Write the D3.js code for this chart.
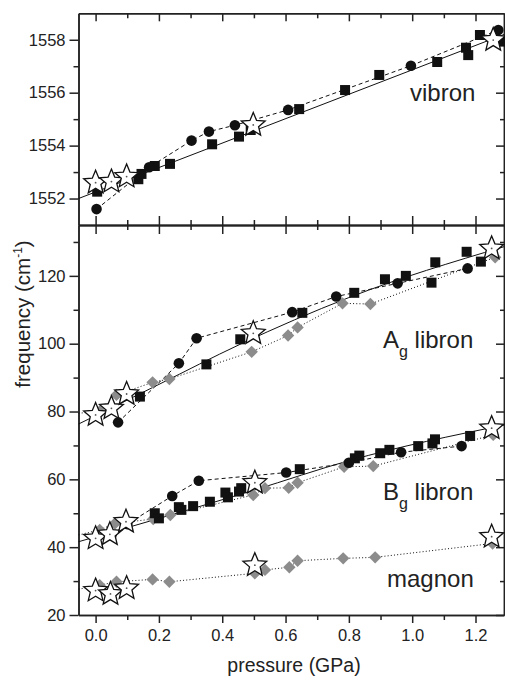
<!DOCTYPE html>
<html lang="en">
<head>
<meta charset="UTF-8">
<title>Raman modes vs pressure</title>
<script src="https://d3js.org/d3.v7.min.js"></script>
<style>
    body { margin: 0; background: #fff; }
    svg text { font-family: "Liberation Sans", Arial, sans-serif; fill: #222; }
    .axis path, .axis line { stroke: #222; stroke-width: 1.5; }
    .axis text { font-size: 16.5px; fill: #222; }
    .fit { fill: none; stroke: #111; stroke-width: 1; }
</style>
</head>
<body>
<script>
    // ---- data: [pressure (GPa), frequency (cm-1)] ----
    var vibronSquares = [[0.005,1552.26],[0.135,1552.73],[0.145,1552.93],[0.187,1553.23],[0.235,1553.31],[0.368,1554.05],[0.453,1554.34],[0.49,1554.59],[0.643,1555.38],[0.788,1556.1],[0.896,1556.67],[1.079,1557.16],[1.17,1557.7],[1.177,1557.42],[1.214,1558.18],[1.283,1557.93]];
    var vibronCircles = [[0.003,1551.6],[0.169,1553.18],[0.303,1554.19],[0.358,1554.53],[0.44,1554.77],[0.608,1555.35],[0.996,1557.02],[1.272,1558.37]];
    var vibronStars = [[0,1552.6],[0.05,1552.64],[0.098,1552.83],[0.498,1554.78],[1.256,1557.99]];
    var vibronFit = [[-0.054,1552.0],[1.29,1558.2]];

    var agSquares = [[0.14,84.4],[0.35,93.9],[0.457,101.3],[0.653,109.1],[0.817,115.0],[0.914,119.0],[0.98,120.0],[1.061,118.0],[1.073,124.0],[1.172,127.1],[1.217,124.2]];
    var agCircles = [[0.071,76.8],[0.263,94.2],[0.319,101.6],[0.621,109.3],[0.76,113.9],[0.954,117.8],[1.175,122.2]];
    var agDiamonds = [[0.013,80.0],[0.066,84.9],[0.18,88.6],[0.233,89.6],[0.493,97.6],[0.608,102.4],[0.638,104.8],[0.78,111.9],[0.868,111.7],[1.262,125.5]];
    var agStars = [[0,79.0],[0.05,80.95],[0.098,85.17],[0.498,103.07],[1.251,128.1]];
    var agFit = [[-0.054,76.3],[0.2,88.0],[0.456,99.8],[0.8,113.6],[1.29,128.6]];
    var agDotStart = [-0.054,79.5];

    var bgSquares = [[0.187,50.0],[0.2,48.5],[0.263,51.8],[0.271,51.0],[0.308,52.1],[0.361,53.4],[0.41,56.1],[0.418,54.7],[0.453,56.4],[0.46,57.4],[0.645,63.0],[0.819,66.2],[0.833,67.0],[0.899,67.7],[0.928,68.7],[1.019,69.8],[1.064,70.6],[1.072,71.8],[1.183,72.8]];
    var bgCircles = [[0.05,43.5],[0.1,46.8],[0.242,55.1],[0.326,59.6],[0.602,62.0],[0.80,64.9],[0.965,68.0],[1.156,69.8]];
    var bgDiamonds = [[0.013,45.1],[0.061,47.0],[0.182,48.3],[0.236,49.5],[0.498,55.4],[0.535,57.4],[0.61,57.5],[0.638,59.0],[0.785,63.7],[0.877,63.9],[1.256,73.1]];
    var bgStars = [[0,42.6],[0.045,43.8],[0.096,47.5],[0.503,59.0],[1.251,75.1]];
    var bgFit = [[-0.054,41.6],[0.5,56.8],[0.8,65.5],[1.29,76.0]];
    var bgDotStart = [-0.054,43.6];

    var magDiamonds = [[0.013,28.8],[0.066,29.8],[0.18,30.5],[0.233,29.8],[0.503,32.3],[0.535,33.3],[0.612,34.1],[0.638,36.0],[0.782,36.7],[0.883,37.0],[1.254,41.1]];
    var magStars = [[0,27.2],[0.047,26.2],[0.098,27.9],[0.503,34.7],[1.251,43.1]];
    var magDotStart = [-0.054,27.6];

    var xMajor = [0, 0.2, 0.4, 0.6, 0.8, 1.0, 1.2];
    var xMinor = [0.1, 0.3, 0.5, 0.7, 0.9, 1.1];
    var topMajor = [1552, 1554, 1556, 1558];
    var topMinor = [1553, 1555, 1557];
    var botMajor = [20, 40, 60, 80, 100, 120];
    var botMinor = [30, 50, 70, 90, 110, 130];

    var width = 505, height = 680;
    var pLeft = 78.5, pRight = 504, pTop = 13.3, pMid = 225, pBottom = 615;

    var svg = d3.select("body").append("svg")
        .attr("width", width)
        .attr("height", height);

    var x = d3.scaleLinear().domain([-0.054, 1.29]).range([pLeft, pRight]);
    var yTop = d3.scaleLinear().domain([1551, 1559]).range([pMid, pTop]);
    var yBot = d3.scaleLinear().domain([20, 135]).range([pBottom, pMid]);

    // ---- axes ----
    function addAxis(axis, tx, ty) {
        svg.append("g").attr("class", "axis")
            .attr("transform", "translate(" + tx + "," + ty + ")")
            .call(axis);
    }
    var noLab = function() { return ""; };
    var intLab = d3.format("d");

    // left
    addAxis(d3.axisLeft(yTop).tickValues(topMajor).tickSize(9).tickPadding(4).tickFormat(intLab).tickSizeOuter(0), pLeft, 0);
    addAxis(d3.axisLeft(yTop).tickValues(topMinor).tickSize(5).tickFormat(noLab).tickSizeOuter(0), pLeft, 0);
    addAxis(d3.axisLeft(yBot).tickValues(botMajor).tickSize(9).tickPadding(4).tickFormat(intLab).tickSizeOuter(0), pLeft, 0);
    addAxis(d3.axisLeft(yBot).tickValues(botMinor).tickSize(5).tickFormat(noLab).tickSizeOuter(0), pLeft, 0);
    // right (ticks inward)
    addAxis(d3.axisLeft(yTop).tickValues(topMajor).tickSize(8).tickFormat(noLab).tickSizeOuter(0), pRight, 0);
    addAxis(d3.axisLeft(yTop).tickValues(topMinor).tickSize(4).tickFormat(noLab).tickSizeOuter(0), pRight, 0);
    addAxis(d3.axisLeft(yBot).tickValues(botMajor).tickSize(8).tickFormat(noLab).tickSizeOuter(0), pRight, 0);
    addAxis(d3.axisLeft(yBot).tickValues(botMinor).tickSize(4).tickFormat(noLab).tickSizeOuter(0), pRight, 0);
    // top (inward)
    addAxis(d3.axisBottom(x).tickValues(xMajor).tickSize(8).tickFormat(noLab).tickSizeOuter(0), 0, pTop);
    addAxis(d3.axisBottom(x).tickValues(xMinor).tickSize(5).tickFormat(noLab).tickSizeOuter(0), 0, pTop);
    // middle (both sides)
    addAxis(d3.axisBottom(x).tickValues(xMajor).tickSize(9).tickFormat(noLab).tickSizeOuter(0), 0, pMid);
    addAxis(d3.axisTop(x).tickValues(xMajor).tickSize(9).tickFormat(noLab).tickSizeOuter(0), 0, pMid);
    addAxis(d3.axisBottom(x).tickValues(xMinor).tickSize(5).tickFormat(noLab).tickSizeOuter(0), 0, pMid);
    addAxis(d3.axisTop(x).tickValues(xMinor).tickSize(5).tickFormat(noLab).tickSizeOuter(0), 0, pMid);
    // bottom
    addAxis(d3.axisBottom(x).tickValues(xMajor).tickSize(8).tickPadding(6).tickFormat(d3.format(".1f")).tickSizeOuter(0), 0, pBottom);
    addAxis(d3.axisBottom(x).tickValues(xMinor).tickSize(5).tickFormat(noLab).tickSizeOuter(0), 0, pBottom);

    // ---- lines ----
    var gLines = svg.append("g");
    function drawLine(pts, y, dash, curve) {
        var line = d3.line()
            .x(function(d) { return x(d[0]); })
            .y(function(d) { return y(d[1]); })
            .curve(curve || d3.curveLinear);
        gLines.append("path").attr("class", "fit")
            .attr("d", line(pts))
            .attr("stroke-dasharray", dash || null);
    }
    var dashed = "4,3", dotted = "1,2.2";

    drawLine(vibronFit, yTop);
    drawLine(vibronCircles, yTop, dashed);

    drawLine(agFit, yBot, null, d3.curveMonotoneX);
    drawLine(agCircles, yBot, dashed);
    drawLine([agDotStart].concat(agDiamonds), yBot, dotted);

    drawLine(bgFit, yBot, null, d3.curveMonotoneX);
    drawLine(bgCircles, yBot, dashed);
    drawLine([bgDotStart].concat(bgDiamonds), yBot, dotted);

    drawLine([magDotStart].concat(magDiamonds), yBot, dotted);

    // ---- markers ----
    var gMarks = svg.append("g");
    function diamonds(pts, y) {
        gMarks.selectAll(null).data(pts).enter().append("path")
            .attr("d", "M0,-6.2L6.2,0L0,6.2L-6.2,0Z")
            .attr("transform", function(d) { return "translate(" + x(d[0]) + "," + y(d[1]) + ")"; })
            .attr("fill", "#8c8c8c");
    }
    function squares(pts, y) {
        gMarks.selectAll(null).data(pts).enter().append("rect")
            .attr("x", function(d) { return x(d[0]) - 5; })
            .attr("y", function(d) { return y(d[1]) - 5; })
            .attr("width", 10).attr("height", 10)
            .attr("fill", "#111");
    }
    function circles(pts, y) {
        gMarks.selectAll(null).data(pts).enter().append("circle")
            .attr("cx", function(d) { return x(d[0]); })
            .attr("cy", function(d) { return y(d[1]); })
            .attr("r", 5.3)
            .attr("fill", "#111");
    }
    var starPath = (function() {
        var p = [], ro = 12.5, ri = 5.6;
        for (var i = 0; i < 10; i++) {
            var a = -Math.PI / 2 + i * Math.PI / 5, r = i % 2 ? ri : ro;
            p.push([r * Math.cos(a), r * Math.sin(a)]);
        }
        return "M" + p.join("L") + "Z";
    })();
    function stars(pts, y) {
        var g = gMarks.selectAll(null).data(pts).enter().append("g")
            .attr("transform", function(d) { return "translate(" + x(d[0]) + "," + y(d[1]) + ")"; });
        g.append("path").attr("d", starPath)
            .attr("fill", "#fff").attr("stroke", "#111").attr("stroke-width", 1.3)
            .attr("stroke-linejoin", "miter");
        g.append("circle").attr("r", 0.9).attr("fill", "#555");
    }

    diamonds(agDiamonds, yBot);
    diamonds(bgDiamonds, yBot);
    diamonds(magDiamonds, yBot);
    squares(vibronSquares, yTop);
    squares(agSquares, yBot);
    squares(bgSquares, yBot);
    circles(vibronCircles, yTop);
    circles(agCircles, yBot);
    circles(bgCircles, yBot);
    stars(vibronStars, yTop);
    stars(agStars, yBot);
    stars(bgStars, yBot);
    stars(magStars, yBot);

    // ---- labels ----
    function label(tx, ty, main, sub, rest) {
        var t = svg.append("text").attr("x", tx).attr("y", ty).style("font-size", "24px");
        t.append("tspan").text(main);
        if (sub) {
            t.append("tspan").attr("dy", 9).style("font-size", "16px").text(sub);
            t.append("tspan").attr("dy", -9).text(rest);
        }
    }
    label(410, 101, "vibron");
    label(383, 348, "A", "g", " libron");
    label(383, 500, "B", "g", " libron");
    label(387, 587, "magnon");

    svg.append("text")
        .attr("x", 294).attr("y", 672)
        .attr("text-anchor", "middle")
        .style("font-size", "19.5px")
        .text("pressure (GPa)");

    var yl = svg.append("text")
        .attr("transform", "translate(30,314) rotate(-90)")
        .attr("text-anchor", "middle")
        .style("font-size", "20.5px");
    yl.append("tspan").text("frequency (cm");
    yl.append("tspan").attr("dy", -8).style("font-size", "12px").text("-1");
    yl.append("tspan").attr("dy", 8).text(")");
</script>
</body>
</html>
